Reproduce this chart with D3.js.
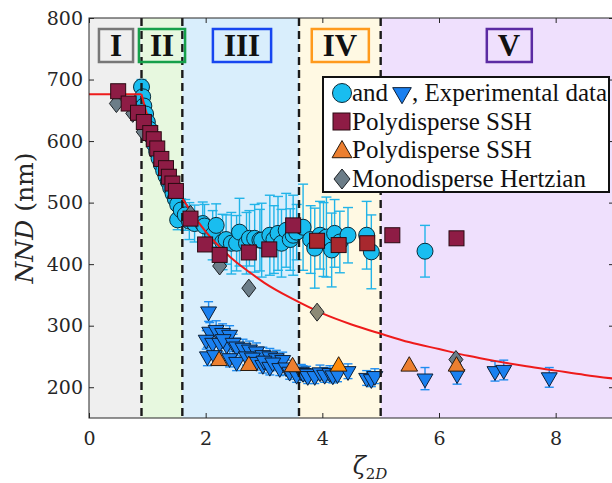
<!DOCTYPE html>
<html>
<head>
<meta charset="utf-8">
<script src="https://cdn.jsdelivr.net/npm/d3@7"></script>
<style>
  body { margin: 0; background: #fff; }
</style>
</head>
<body>
<div id="chart"></div>
<script>
const W = 612, H = 483
const margin = {left: 89, top: 18, right: 614, bottom: 418}

// region bounds (zeta) and labels
const regionEdges = [0, 0.9, 1.6, 3.6, 5.0, 9]
const regionNames = ["I", "II", "III", "IV", "V"]
const regionFill = ["#efefef", "#e7f8df", "#d9eefc", "#fff9e3", "#efe0fd"]
const regionStroke = ["#777777", "#16a04a", "#1746f0", "#ff9a1c", "#5b2ba3"]
const regionLabelX = [116, 162, 242, 340, 509]

const xTicks = [0, 2, 4, 6, 8]
const yTicks = [200, 300, 400, 500, 600, 700, 800]

// experimental data, circles: [zeta, NND, error]
const circles = [
  [0.90, 688, 12], [0.92, 672, 12], [0.94, 657, 12], [0.97, 644, 12], [1.00, 631, 12],
  [1.04, 619, 12], [1.08, 607, 12], [1.12, 595, 13], [1.16, 583, 13], [1.20, 572, 13],
  [1.24, 562, 13], [1.28, 552, 14], [1.32, 543, 14], [1.36, 534, 14], [1.40, 524, 15],
  [1.44, 515, 15], [1.48, 506, 16], [1.52, 497, 16], [1.52, 472, 16], [1.58, 488, 18],
  [1.65, 480, 25], [1.72, 470, 30], [1.81, 466, 30], [1.95, 466, 35], [1.98, 462, 35],
  [2.12, 447, 40], [2.18, 463, 35], [2.29, 436, 45], [2.35, 440, 40], [2.44, 434, 50],
  [2.53, 434, 45], [2.58, 452, 55], [2.70, 434, 50], [2.75, 442, 45], [2.84, 442, 55],
  [2.93, 439, 50], [2.96, 439, 60], [3.10, 447, 65], [3.17, 440, 55], [3.24, 450, 60],
  [3.30, 434, 55], [3.38, 455, 60], [3.45, 440, 50], [3.50, 447, 65], [3.56, 452, 45],
  [3.67, 460, 70], [3.80, 440, 55], [3.87, 426, 65], [3.96, 447, 55], [4.02, 440, 60],
  [4.07, 444, 65], [4.16, 423, 60], [4.21, 450, 55], [4.30, 436, 50], [4.44, 447, 45],
  [4.76, 447, 55], [4.84, 420, 60], [5.76, 421, 42]
]

// experimental data, down triangles: [zeta, NND, error]
const triangles = [
  [2.05, 323, 16], [2.07, 290, 15], [2.18, 293, 15], [2.29, 288, 15], [2.41, 285, 15],
  [2.01, 277, 15], [2.12, 272, 15], [2.24, 272, 15], [2.36, 269, 15], [2.30, 278, 15],
  [2.47, 272, 14], [2.53, 266, 14], [2.64, 264, 14], [2.75, 261, 14], [2.87, 258, 14],
  [2.98, 252, 13], [3.10, 250, 13], [3.21, 247, 13], [3.32, 244, 13], [2.03, 250, 15],
  [2.15, 252, 15], [2.41, 247, 14], [2.53, 241, 14], [2.70, 250, 14], [2.80, 248, 13],
  [2.87, 241, 13], [2.98, 236, 13], [3.00, 243, 13], [3.10, 233, 13], [3.15, 240, 13],
  [3.27, 231, 12], [3.38, 232, 12], [3.44, 225, 12], [3.56, 220, 12], [3.64, 225, 12],
  [3.67, 223, 12], [3.73, 222, 12], [3.75, 218, 12], [3.87, 218, 12], [3.96, 224, 12],
  [4.04, 220, 12], [4.13, 223, 12], [4.18, 219, 12], [4.26, 221, 12], [4.44, 226, 12],
  [4.76, 215, 12], [4.84, 213, 12], [4.90, 218, 12], [5.76, 214, 18], [6.31, 221, 16],
  [6.96, 226, 16], [7.11, 228, 16], [7.89, 216, 16]
]

// polydisperse SSH (squares)
const squares = [
  [0.50, 681], [0.68, 661], [0.84, 646], [0.94, 631], [1.05, 613], [1.11, 603],
  [1.17, 588], [1.24, 571], [1.32, 556], [1.37, 542], [1.43, 531], [1.49, 519],
  [1.74, 474], [1.99, 432], [2.24, 415], [2.74, 419], [3.09, 424], [3.50, 463],
  [3.91, 438], [4.28, 431], [4.77, 434], [5.20, 447], [6.30, 442]
]

// polydisperse SSH (up triangles)
const upTriangles = [
  [2.23, 243], [2.74, 235], [3.49, 233], [4.28, 234], [5.49, 234], [6.30, 234]
]

// monodisperse Hertzian (diamonds)
const diamonds = [
  [0.47, 661], [0.75, 645], [0.93, 615], [1.74, 481], [2.24, 397], [2.74, 361],
  [3.91, 322], [6.29, 245]
]

// red model curve
const curveFlat = [[0, 676], [0.9, 676]]
const curveDecay = [
  [0.9, 676], [1.0, 641], [1.2, 586], [1.4, 542], [1.6, 507], [1.8, 478], [2.0, 453],
  [2.25, 427], [2.5, 405], [2.75, 387], [3.0, 370], [3.5, 343], [4.0, 320], [4.5, 302],
  [5.0, 287], [5.5, 273], [6.0, 262], [6.5, 251], [7.0, 242], [7.5, 234], [8.0, 227],
  [8.5, 220], [9.0, 214]
]

const x = d3.scaleLinear().domain([0, 9]).range([margin.left, margin.right])
const y = d3.scaleLinear().domain([150, 800]).range([margin.bottom, margin.top])

const svg = d3.select("#chart").append("svg")
    .attr("width", W)
    .attr("height", H)

// shaded regions
svg.selectAll("rect.region")
    .data(regionNames)
    .enter()
    .append("rect")
    .attr("class", "region")
    .attr("x", (d, i) => x(regionEdges[i]))
    .attr("width", (d, i) => x(regionEdges[i + 1]) - x(regionEdges[i]))
    .attr("y", margin.top)
    .attr("height", margin.bottom - margin.top)
    .attr("fill", (d, i) => regionFill[i])

// error bars helper
const cyanBar = "#22b4e8"
function errorBars(data, color, cap, cls) {
    const g = svg.append("g").attr("class", cls)
        .attr("stroke", color).attr("stroke-width", 1.4)
    g.selectAll("line.v").data(data).enter().append("line")
        .attr("x1", d => x(d[0])).attr("x2", d => x(d[0]))
        .attr("y1", d => y(d[1] - d[2])).attr("y2", d => y(d[1] + d[2]))
    g.selectAll("line.t").data(data).enter().append("line")
        .attr("x1", d => x(d[0]) - cap).attr("x2", d => x(d[0]) + cap)
        .attr("y1", d => y(d[1] + d[2])).attr("y2", d => y(d[1] + d[2]))
    g.selectAll("line.b").data(data).enter().append("line")
        .attr("x1", d => x(d[0]) - cap).attr("x2", d => x(d[0]) + cap)
        .attr("y1", d => y(d[1] - d[2])).attr("y2", d => y(d[1] - d[2]))
}

errorBars(circles, cyanBar, 5, "cerr")
svg.append("g").selectAll("circle")
    .data(circles)
    .enter()
    .append("circle")
    .attr("cx", d => x(d[0]))
    .attr("cy", d => y(d[1]))
    .attr("r", 8)
    .attr("fill", "#19bdf0")
    .attr("stroke", "#0b2a38")
    .attr("stroke-width", 1)

// triangles
const triDown = d3.symbol().type(d3.symbolTriangle).size(110)
errorBars(triangles, "#1f8cf0", 4.5, "terr")
svg.append("g").selectAll("path")
    .data(triangles)
    .enter()
    .append("path")
    .attr("d", triDown)
    .attr("transform", d => "translate(" + [x(d[0]), y(d[1])] + ") rotate(180)")
    .attr("fill", "#1a80f0")
    .attr("stroke", "#0e1f36")
    .attr("stroke-width", 1)

// dashed region boundaries
svg.selectAll("line.sep")
    .data(regionEdges.slice(1, 5))
    .enter()
    .append("line")
    .attr("class", "sep")
    .attr("x1", d => x(d)).attr("x2", d => x(d))
    .attr("y1", margin.top).attr("y2", margin.bottom)
    .attr("stroke", "#1a1a1a")
    .attr("stroke-width", 2.4)
    .attr("stroke-dasharray", "8,5")

// red curve
const line = d3.line().x(d => x(d[0])).y(d => y(d[1]))
svg.append("path")
    .attr("d", line(curveFlat))
    .attr("fill", "none").attr("stroke", "#ee1b1b").attr("stroke-width", 2)
svg.append("path")
    .attr("d", line.curve(d3.curveMonotoneX)(curveDecay))
    .attr("fill", "none").attr("stroke", "#ee1b1b").attr("stroke-width", 2)

// diamonds
svg.append("g").selectAll("path")
    .data(diamonds)
    .enter()
    .append("path")
    .attr("d", "M0,-9L7,0L0,9L-7,0Z")
    .attr("transform", d => "translate(" + [x(d[0]), y(d[1])] + ")")
    .attr("fill", d => d[0] > 3.6 && d[0] < 5 ? "#8c8a76" : "#6c7d88")
    .attr("stroke", "#1e2226")
    .attr("stroke-width", 1)

// orange triangles
svg.append("g").selectAll("path")
    .data(upTriangles)
    .enter()
    .append("path")
    .attr("d", d3.symbol().type(d3.symbolTriangle).size(120))
    .attr("transform", d => "translate(" + [x(d[0]), y(d[1])] + ")")
    .attr("fill", d => d[0] > 3.6 && d[0] < 5 ? "#ff8c0a" : "#ec7f30")
    .attr("stroke", "#2a1a0c")
    .attr("stroke-width", 1)

// squares
svg.append("g").selectAll("rect")
    .data(squares)
    .enter()
    .append("rect")
    .attr("x", d => x(d[0]) - 7.5)
    .attr("y", d => y(d[1]) - 7.5)
    .attr("width", 15).attr("height", 15)
    .attr("fill", d => d[0] > 3.6 && d[0] < 5 ? "#a8282e" : "#8e1c45")
    .attr("stroke", "#2a0a12")
    .attr("stroke-width", 1)

// axes box
const axisColor = "#262626"
svg.append("rect")
    .attr("x", margin.left).attr("y", margin.top)
    .attr("width", margin.right - margin.left).attr("height", margin.bottom - margin.top)
    .attr("fill", "none").attr("stroke", axisColor).attr("stroke-width", 1)

svg.append("g").attr("transform", "translate(0," + margin.bottom + ")")
    .call(d3.axisBottom(x).tickValues(xTicks).tickSize(-5).tickPadding(14).tickFormat(d3.format("d")))
svg.append("g").attr("transform", "translate(0," + margin.top + ")")
    .call(d3.axisTop(x).tickValues(xTicks).tickSize(-5).tickFormat(""))
svg.append("g").attr("transform", "translate(" + margin.left + ",0)")
    .call(d3.axisLeft(y).tickValues(yTicks).tickSize(-5).tickPadding(6))
svg.append("g").attr("transform", "translate(" + margin.right + ",0)")
    .call(d3.axisRight(y).tickValues(yTicks).tickSize(-5).tickFormat(""))

svg.selectAll(".domain").remove()
svg.selectAll(".tick line").attr("stroke", axisColor)
svg.selectAll(".tick text")
    .attr("font-family", "DejaVu Serif")
    .attr("font-size", 19)
    .attr("fill", "#262626")

// axis labels
const xl = svg.append("text")
    .attr("x", 370).attr("y", 474)
    .attr("text-anchor", "middle")
    .attr("font-family", "DejaVu Serif")
    .attr("fill", "#262626")
xl.append("tspan").attr("font-style", "italic").attr("font-size", 24).text("ζ")
xl.append("tspan").attr("font-size", 15).attr("dy", 5).text("2")
xl.append("tspan").attr("font-size", 15).attr("font-style", "italic").text("D")

const yl = svg.append("text")
    .attr("transform", "translate(33,218) rotate(-90)")
    .attr("text-anchor", "middle")
    .attr("font-family", "DejaVu Serif")
    .attr("fill", "#262626")
    .attr("font-size", 25)
yl.append("tspan").attr("font-style", "italic").text("NND")
yl.append("tspan").text(" (nm)")

// region labels
const rl = svg.selectAll("g.rlabel")
    .data(regionNames)
    .enter()
    .append("g")
    .attr("class", "rlabel")
    .attr("transform", (d, i) => "translate(" + regionLabelX[i] + ",45)")
rl.append("text")
    .attr("text-anchor", "middle")
    .attr("y", 11)
    .attr("font-family", "Liberation Serif")
    .attr("font-weight", "bold")
    .attr("font-size", 31)
    .attr("fill", "#111")
    .text(d => d)
rl.each(function (d, i) {
    const g = d3.select(this)
    const bb = g.select("text").node().getBBox()
    g.insert("rect", "text")
        .attr("x", bb.x - 11).attr("y", -16)
        .attr("width", bb.width + 22).attr("height", 33)
        .attr("fill", "none")
        .attr("stroke", regionStroke[i])
        .attr("stroke-width", 2.5)
})

// legend
const lg = svg.append("g").attr("class", "legend")
lg.append("rect")
    .attr("x", 323).attr("y", 77).attr("width", 286).attr("height", 115)
    .attr("fill", "#fff").attr("stroke", "#111").attr("stroke-width", 2)
function legText(tx, ty, s) {
    return lg.append("text").attr("x", tx).attr("y", ty).text(s)
        .attr("font-family", "Liberation Serif")
        .attr("font-size", 25)
        .attr("fill", "#111")
}
lg.append("circle").attr("cx", 342).attr("cy", 93).attr("r", 9.5)
    .attr("fill", "#19bdf0").attr("stroke", "#0b2a38")
legText(352, 101, "and")
lg.append("path").attr("d", d3.symbol().type(d3.symbolTriangle).size(150))
    .attr("transform", "translate(402,93) rotate(180)")
    .attr("fill", "#1a80f0").attr("stroke", "#0e1f36")
legText(412, 101, ", Experimental data")
lg.append("rect").attr("x", 333).attr("y", 113).attr("width", 17).attr("height", 17)
    .attr("fill", "#8e1c45").attr("stroke", "#2a0a12")
legText(352, 130, "Polydisperse SSH")
lg.append("path").attr("d", d3.symbol().type(d3.symbolTriangle).size(170))
    .attr("transform", "translate(342,152)")
    .attr("fill", "#ec7f30").attr("stroke", "#2a1a0c")
legText(352, 158, "Polydisperse SSH")
lg.append("path").attr("d", "M0,-10L8,0L0,10L-8,0Z")
    .attr("transform", "translate(342,179)")
    .attr("fill", "#6c7d88").attr("stroke", "#1e2226")
legText(352, 187, "Monodisperse Hertzian")
</script>
</body>
</html>
